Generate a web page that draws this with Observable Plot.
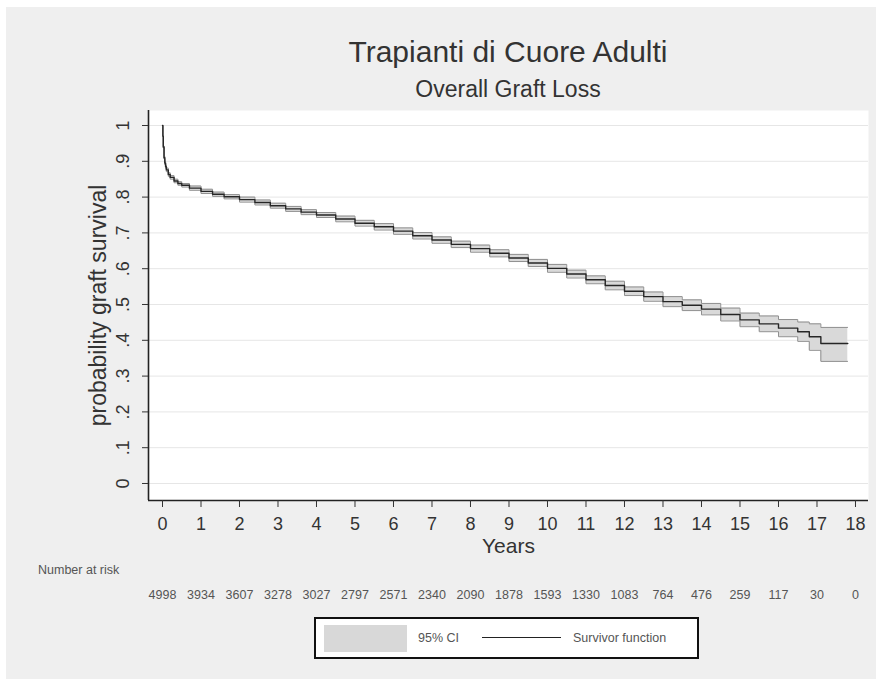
<!DOCTYPE html>
<html>
<head>
<meta charset="utf-8">
<script src="https://cdn.jsdelivr.net/npm/d3@7"></script>
<script src="https://cdn.jsdelivr.net/npm/@observablehq/plot@0.6"></script>
<style>
  html, body { margin: 0; padding: 0; background: #ffffff; }
  #wrap { position: relative; width: 880px; height: 686px; overflow: hidden; font-family: "Liberation Sans", Arial, sans-serif; }
  #bg { position: absolute; left: 6px; top: 7px; width: 870px; height: 672px; background: #efefef; }
  #chart { position: absolute; left: 0; top: 0; }
  .t { position: absolute; white-space: nowrap; color: #333; }
  #title { left: 208px; width: 600px; text-align: center; top: 37px; font-size: 30px; line-height: 30px; }
  #subtitle { left: 208px; width: 600px; text-align: center; top: 78px; font-size: 23px; line-height: 23px; }
  #nrisk { left: 38px; top: 563px; font-size: 12.5px; line-height: 14px; color: #555; }
  #legend { position: absolute; left: 314px; top: 617px; width: 385px; height: 42px; box-sizing: border-box; border: 2px solid #111; background: #fff; }
  #legend .sw { position: absolute; left: 8px; top: 6px; width: 83px; height: 27px; background: #d8d8d8; }
  #legend .ln { position: absolute; left: 166px; top: 18px; width: 79px; height: 0; border-top: 1.5px solid #222; }
  #legend .lt { position: absolute; top: 12px; font-size: 12.5px; line-height: 14px; color: #555; }
</style>
</head>
<body>
<div id="wrap">
  <div id="bg"></div>
  <div id="chart"></div>
  <div class="t" id="title">Trapianti di Cuore Adulti</div>
  <div class="t" id="subtitle">Overall Graft Loss</div>
  <div class="t" id="nrisk">Number at risk</div>
  <div id="legend">
    <div class="sw"></div>
    <div class="lt" style="left:102px">95% CI</div>
    <div class="ln"></div>
    <div class="lt" style="left:257px">Survivor function</div>
  </div>
</div>
<script>
// Kaplan-Meier estimate (years, survival, 95% CI)
const times = [0, 0.01, 0.02, 0.04, 0.06, 0.08, 0.1, 0.15, 0.2, 0.3, 0.4, 0.5, 0.7, 1.0, 1.3, 1.6, 2.0, 2.4, 2.8, 3.2, 3.6, 4.0, 4.5, 5.0, 5.5, 6.0, 6.5, 7.0, 7.5, 8.0, 8.5, 9.0, 9.5, 10.0, 10.5, 11.0, 11.5, 12.0, 12.5, 13.0, 13.5, 14.0, 14.5, 15.0, 15.5, 16.0, 16.5, 16.8, 17.1, 17.8];
const survival = [1.0, 0.97, 0.94, 0.91, 0.895, 0.885, 0.876, 0.863, 0.855, 0.845, 0.838, 0.833, 0.825, 0.816, 0.808, 0.801, 0.793, 0.785, 0.776, 0.767, 0.758, 0.750, 0.739, 0.727, 0.717, 0.705, 0.692, 0.680, 0.668, 0.656, 0.643, 0.630, 0.616, 0.601, 0.585, 0.569, 0.553, 0.537, 0.522, 0.508, 0.498, 0.487, 0.472, 0.457, 0.446, 0.434, 0.424, 0.410, 0.391, 0.391];
const ciLower = [1.0, 0.968, 0.937, 0.906, 0.890, 0.880, 0.871, 0.858, 0.850, 0.840, 0.833, 0.828, 0.819, 0.810, 0.802, 0.795, 0.786, 0.778, 0.769, 0.760, 0.751, 0.743, 0.731, 0.719, 0.708, 0.696, 0.683, 0.671, 0.659, 0.646, 0.633, 0.620, 0.606, 0.590, 0.574, 0.558, 0.541, 0.525, 0.509, 0.494, 0.483, 0.471, 0.454, 0.438, 0.424, 0.410, 0.397, 0.372, 0.341, 0.341];
const ciUpper = [1.0, 0.972, 0.943, 0.914, 0.900, 0.890, 0.881, 0.868, 0.860, 0.850, 0.843, 0.838, 0.831, 0.822, 0.814, 0.807, 0.800, 0.792, 0.783, 0.774, 0.765, 0.757, 0.747, 0.735, 0.726, 0.714, 0.701, 0.689, 0.677, 0.666, 0.653, 0.640, 0.626, 0.612, 0.596, 0.580, 0.565, 0.549, 0.535, 0.522, 0.513, 0.503, 0.490, 0.476, 0.468, 0.458, 0.451, 0.446, 0.436, 0.436];

// Number at risk table
const riskTimes = [0, 1, 2, 3, 4, 5, 6, 7, 8, 9, 10, 11, 12, 13, 14, 15, 16, 17, 18];
const riskCounts = [4998, 3934, 3607, 3278, 3027, 2797, 2571, 2340, 2090, 1878, 1593, 1330, 1083, 764, 476, 259, 117, 30, 0];

// Axis ticks
const xTicks = [0, 1, 2, 3, 4, 5, 6, 7, 8, 9, 10, 11, 12, 13, 14, 15, 16, 17, 18];
const yTicks = [0, 0.1, 0.2, 0.3, 0.4, 0.5, 0.6, 0.7, 0.8, 0.9, 1];
const yTickLabels = ["0", ".1", ".2", ".3", ".4", ".5", ".6", ".7", ".8", ".9", "1"];

const km = times.map((t, i) => ({t, s: survival[i], lo: ciLower[i], hi: ciUpper[i]}));

const xDomain = [-0.36364, 18.3377];
const yDomain = [-0.04749, 1.0419];

const chart = Plot.plot({
  width: 880,
  height: 686,
  marginLeft: 148,
  marginRight: 12,
  marginTop: 110,
  marginBottom: 186,
  style: {background: "transparent", fontFamily: "'Liberation Sans', Arial, sans-serif", color: "#333"},
  x: {domain: xDomain, axis: null},
  y: {domain: yDomain, axis: null},
  marks: [
    Plot.frame({fill: "#ffffff", stroke: "none"}),
    Plot.ruleY(yTicks, {stroke: "#e6e6e6", strokeWidth: 1}),
    Plot.areaY(km, {x: "t", y1: "lo", y2: "hi", curve: "step-after", fill: "#d9d9d9"}),
    Plot.line(km, {x: "t", y: "lo", curve: "step-after", stroke: "#8f8f8f", strokeWidth: 1}),
    Plot.line(km, {x: "t", y: "hi", curve: "step-after", stroke: "#8f8f8f", strokeWidth: 1}),
    Plot.line(km, {x: "t", y: "s", curve: "step-after", stroke: "#262626", strokeWidth: 1.4}),
    Plot.ruleX([xDomain[0]], {stroke: "#222", strokeWidth: 1.6}),
    Plot.ruleY([yDomain[0]], {stroke: "#222", strokeWidth: 1.6}),
    Plot.axisX(xTicks, {tickSize: 7, tickPadding: 10, fontSize: 18, label: null, stroke: "#333", fill: "#333"}),
    Plot.axisY(yTicks, {tickSize: 6, tickFormat: () => "", label: null, stroke: "#333"}),
    Plot.text(yTicks, {y: d => d, text: (d, i) => yTickLabels[i], frameAnchor: "left", textAnchor: "middle", dx: -25, rotate: -90, fontSize: 18, fill: "#333"}),
    Plot.text(["probability graft survival"], {frameAnchor: "left", textAnchor: "middle", dx: -50, rotate: -90, fontSize: 23, fill: "#333"}),
    Plot.text(["Years"], {frameAnchor: "bottom", dy: 52, fontSize: 21, fill: "#333"}),
    Plot.text(riskCounts, {x: riskTimes, text: riskCounts.map(String), frameAnchor: "bottom", dy: 98, fontSize: 12.5, fill: "#555"})
  ]
});
document.getElementById("chart").appendChild(chart);
</script>
</body>
</html>
